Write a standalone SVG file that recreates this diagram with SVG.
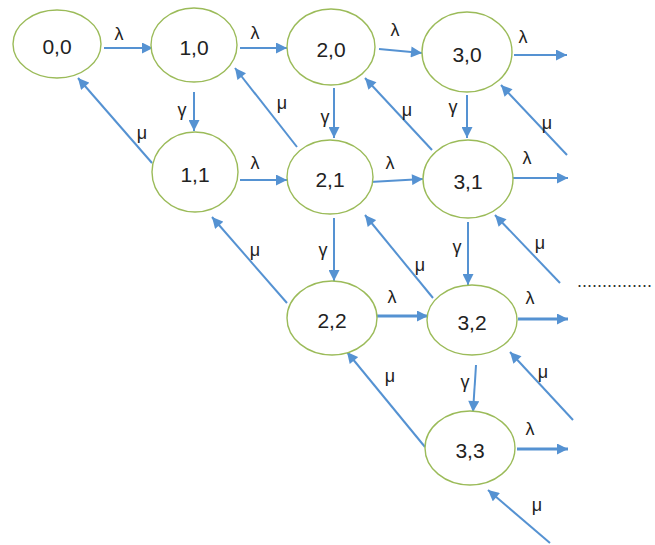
<svg xmlns="http://www.w3.org/2000/svg" width="655" height="545" viewBox="0 0 655 545">
<style>
.node ellipse{fill:#fff;stroke:#9bbb59;stroke-width:1.4}
.node text{font-family:"Liberation Sans","DejaVu Sans",sans-serif;font-size:21px;fill:#222;text-anchor:middle;dominant-baseline:central}
.lbl{font-family:"Liberation Sans","DejaVu Sans",sans-serif;font-size:18px;fill:#222;text-anchor:middle;dominant-baseline:central}
.a{stroke:#5592d2;stroke-width:2;fill:none;marker-end:url(#ah)}
.t{stroke-width:3}
.dots{font-family:"Liberation Sans",sans-serif;font-size:18px;fill:#333}
</style>
<defs>
<marker id="ah" viewBox="0 0 10 10" refX="10" refY="5" markerWidth="12" markerHeight="11" markerUnits="userSpaceOnUse" orient="auto">
<path d="M0,0 L10,5 L0,10 z" fill="#5592d2"/>
</marker>
</defs>
<rect width="655" height="545" fill="#fff"/>
<g id="connectors">
<line class="a" x1="104" y1="48" x2="153" y2="48"/>
<line class="a" x1="240" y1="48" x2="287" y2="48"/>
<line class="a" x1="379" y1="49" x2="422" y2="53"/>
<line class="a" x1="514" y1="55" x2="567" y2="55"/>
<line class="a" x1="240" y1="180" x2="287" y2="180"/>
<line class="a" x1="370" y1="182" x2="423" y2="179"/>
<line class="a" x1="511" y1="178" x2="568" y2="178"/>
<line class="a t" x1="377" y1="316" x2="428" y2="316"/>
<line class="a t" x1="518" y1="319" x2="568" y2="319"/>
<line class="a t" x1="517" y1="449" x2="568" y2="449"/>
<line class="a" x1="194" y1="92" x2="194" y2="131"/>
<line class="a" x1="334" y1="88" x2="334" y2="138"/>
<line class="a" x1="467" y1="95" x2="467" y2="138"/>
<line class="a" x1="334" y1="218" x2="334" y2="281"/>
<line class="a" x1="468" y1="222" x2="468" y2="285"/>
<line class="a" x1="476" y1="365" x2="473" y2="412"/>
<line class="a" x1="152" y1="163" x2="78" y2="78"/>
<line class="a" x1="297" y1="147" x2="235" y2="68"/>
<line class="a" x1="432" y1="150" x2="365" y2="78"/>
<line class="a" x1="567" y1="155" x2="501" y2="85"/>
<line class="a" x1="287" y1="303" x2="212" y2="217"/>
<line class="a" x1="433" y1="298" x2="365" y2="215"/>
<line class="a" x1="560" y1="283" x2="495" y2="215"/>
<line class="a" x1="425" y1="447" x2="347" y2="352"/>
<line class="a" x1="573" y1="420" x2="510" y2="352"/>
<line class="a" x1="550" y1="543" x2="488" y2="490"/>
</g>
<g id="labels">
<text class="lbl" x="119" y="34">λ</text>
<text class="lbl" x="255" y="33">λ</text>
<text class="lbl" x="395" y="30">λ</text>
<text class="lbl" x="523" y="37">λ</text>
<text class="lbl" x="255" y="163">λ</text>
<text class="lbl" x="390" y="163">λ</text>
<text class="lbl" x="527" y="158">λ</text>
<text class="lbl" x="392" y="297">λ</text>
<text class="lbl" x="530" y="298">λ</text>
<text class="lbl" x="530" y="429">λ</text>
<text class="lbl" x="182" y="110">γ</text>
<text class="lbl" x="325" y="117">γ</text>
<text class="lbl" x="453" y="107">γ</text>
<text class="lbl" x="323" y="250">γ</text>
<text class="lbl" x="457" y="247">γ</text>
<text class="lbl" x="465" y="382">γ</text>
<text class="lbl" x="142" y="133">μ</text>
<text class="lbl" x="282" y="103">μ</text>
<text class="lbl" x="407" y="110">μ</text>
<text class="lbl" x="547" y="123">μ</text>
<text class="lbl" x="255" y="250">μ</text>
<text class="lbl" x="420" y="265">μ</text>
<text class="lbl" x="540" y="243">μ</text>
<text class="lbl" x="390" y="376">μ</text>
<text class="lbl" x="543" y="372">μ</text>
<text class="lbl" x="537" y="505">μ</text>
<text class="dots" x="577" y="287" textLength="75">...............</text>
</g>
<g id="n00" class="node"><ellipse cx="57" cy="44" rx="44" ry="34"/><text x="57" y="46">0,0</text></g>
<g id="n10" class="node"><ellipse cx="194" cy="45" rx="43" ry="37"/><text x="194" y="47">1,0</text></g>
<g id="n20" class="node"><ellipse cx="331" cy="47" rx="44" ry="38"/><text x="331" y="49">2,0</text></g>
<g id="n30" class="node"><ellipse cx="467" cy="52" rx="45" ry="40"/><text x="467" y="54">3,0</text></g>
<g id="n11" class="node"><ellipse cx="195" cy="172" rx="43" ry="40"/><text x="195" y="174">1,1</text></g>
<g id="n21" class="node"><ellipse cx="330" cy="177" rx="43" ry="37"/><text x="330" y="179">2,1</text></g>
<g id="n31" class="node"><ellipse cx="468" cy="179" rx="45" ry="39"/><text x="468" y="181">3,1</text></g>
<g id="n22" class="node"><ellipse cx="332" cy="318" rx="45" ry="37"/><text x="332" y="320">2,2</text></g>
<g id="n32" class="node"><ellipse cx="472" cy="320" rx="45" ry="35"/><text x="472" y="322">3,2</text></g>
<g id="n33" class="node"><ellipse cx="470" cy="448" rx="45" ry="37"/><text x="470" y="450">3,3</text></g>
</svg>
